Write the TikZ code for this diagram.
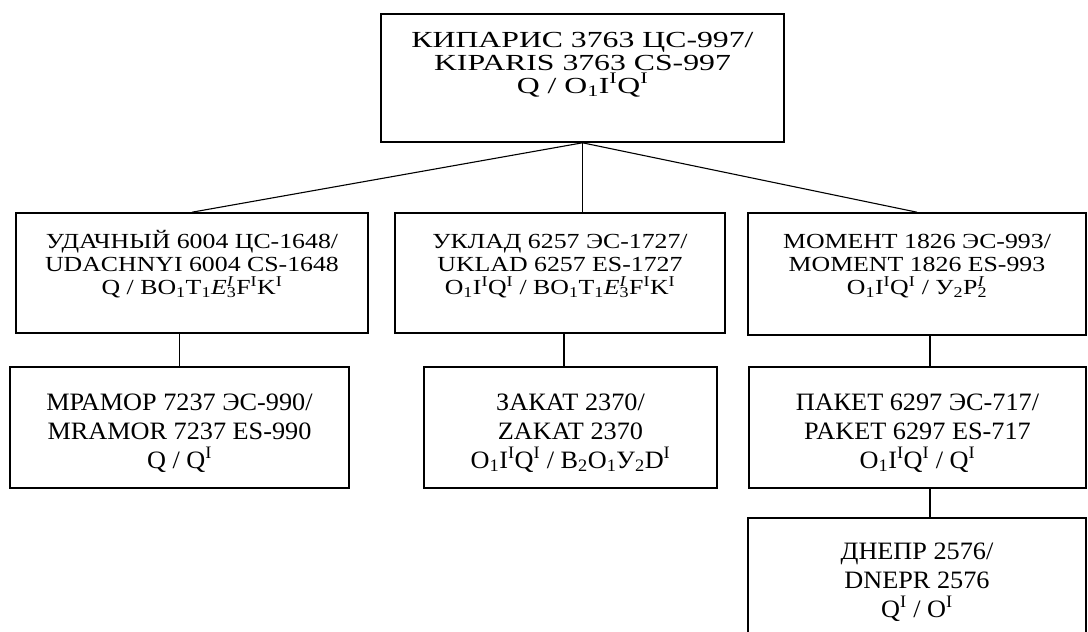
\documentclass[tikz,border=0pt]{standalone}
\usepackage{fontspec}
\setmainfont{Liberation Serif}
\newfontfamily\fonttop{Liberation Serif}[FakeStretch=1.38]
\newfontfamily\fontmid{Liberation Serif}[FakeStretch=1.2]
\newfontfamily\fontlow{Liberation Serif}[FakeStretch=1.05]
\newcommand\subx[1]{\textsubscript{#1}}
\newcommand\supx[1]{\textsuperscript{#1}}
\newcommand\EIIIx{\textit{E}\rlap{\supx{\textit{I}}}\subx{3}}
\newcommand\PIIx{P\rlap{\supx{\textit{I}}}\subx{2}}
\newcommand\tlines[1]{\vtop{\lineskiplimit=-100pt\lineskip=0pt\halign{\hfil##\hfil\cr#1\crcr}}}
\begin{document}
\begin{tikzpicture}[x=1pt,y=-1pt,
  box/.style={draw, line width=1.6pt, inner sep=0pt, rectangle},
  link/.style={line width=1.1pt},
  ttop/.style={anchor=base, inner sep=0pt, font=\fonttop\fontsize{23}{23}\selectfont},
  tmid/.style={anchor=base, inner sep=0pt, font=\fontmid\fontsize{21.5}{23}\selectfont},
  tlow/.style={anchor=base, inner sep=0pt, font=\fontlow\fontsize{25}{29}\selectfont}]
\useasboundingbox (0,0) rectangle (1088,632);
% boxes
\node[box, minimum width=403pt, minimum height=128pt] (top) at (582.5,78) {};
\node[box, minimum width=352pt, minimum height=120pt] (b1) at (192,273) {};
\node[box, minimum width=330pt, minimum height=120pt] (b2) at (560,273) {};
\node[box, minimum width=338pt, minimum height=122pt] (b3) at (917,274) {};
\node[box, minimum width=339pt, minimum height=121pt] (c1) at (179.5,427.5) {};
\node[box, minimum width=293pt, minimum height=121pt] (c2) at (570.5,427.5) {};
\node[box, minimum width=337pt, minimum height=121pt] (c3) at (917.5,427.5) {};
\node[box, minimum width=338pt, minimum height=142pt] (d1) at (917,589) {};
% texts
\node[ttop] (ttop1) at (582.5,47) {\tlines{КИПАРИС 3763 ЦС-997/\cr KIPARIS 3763 CS-997\cr Q / O\subx{1}I\supx{I}Q\supx{I}}};
\node[tmid] (tb1) at (192,248) {\tlines{УДАЧНЫЙ 6004 ЦС-1648/\cr UDACHNYI 6004 CS-1648\cr Q / BO\subx{1}T\subx{1}\EIIIx F\supx{I}K\supx{I}}};
\node[tmid] (tb2) at (560,248) {\tlines{УКЛАД 6257 ЭС-1727/\cr UKLAD 6257 ES-1727\cr O\subx{1}I\supx{I}Q\supx{I} / BO\subx{1}T\subx{1}\EIIIx F\supx{I}K\supx{I}}};
\node[tmid] (tb3) at (917,248) {\tlines{МОМЕНТ 1826 ЭС-993/\cr MOMENT 1826 ES-993\cr O\subx{1}I\supx{I}Q\supx{I} / У\subx{2}\PIIx}};
\node[tlow] (tc1) at (179.5,410) {\tlines{МРАМОР 7237 ЭС-990/\cr MRAMOR 7237 ES-990\cr Q / Q\supx{I}}};
\node[tlow] (tc2) at (570.5,410) {\tlines{ЗАКАТ 2370/\cr ZAKAT 2370\cr O\subx{1}I\supx{I}Q\supx{I} / B\subx{2}O\subx{1}У\subx{2}D\supx{I}}};
\node[tlow] (tc3) at (917.5,410) {\tlines{ПАКЕТ 6297 ЭС-717/\cr PAKET 6297 ES-717\cr O\subx{1}I\supx{I}Q\supx{I} / Q\supx{I}}};
\node[tlow] (td1) at (917,559) {\tlines{ДНЕПР 2576/\cr DNEPR 2576\cr Q\supx{I} / O\supx{I}}};
% connectors
\coordinate (k2) at ([xshift=-6.5pt]c2.north);
\coordinate (k3) at ([xshift=12.5pt]c3.north);
\coordinate (k4) at ([xshift=13pt]d1.north);
\draw[link] (top.south) -- (b1.north);
\draw[link] (top.south) -- (top.south |- b2.north);
\draw[link] (top.south) -- (b3.north);
\draw[link] (b1.south -| c1.north) -- (c1.north);
\draw[link] (b2.south -| k2) -- (k2);
\draw[link] (b3.south -| k3) -- (k3);
\draw[link] (c3.south -| k4) -- (k4);
\end{tikzpicture}
\end{document}
